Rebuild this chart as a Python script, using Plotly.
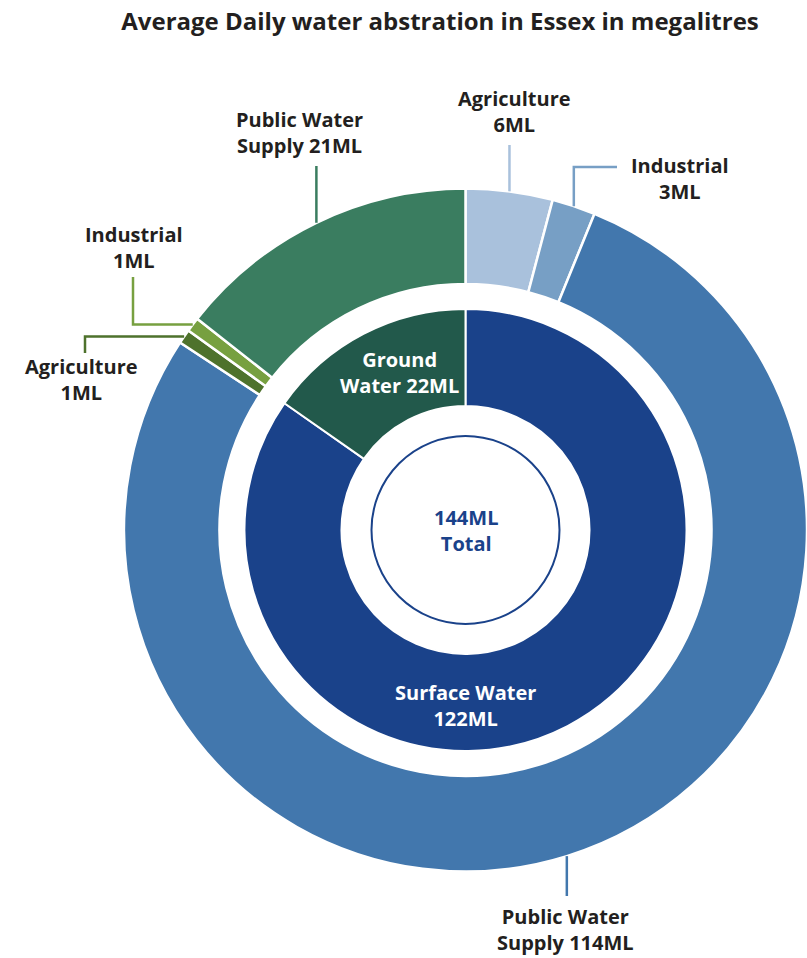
import math
import plotly.graph_objects as go

# ---------------- data ----------------
title_text = "Average Daily water abstration in Essex in megalitres"

outer_labels = ["Agriculture", "Industrial", "Public Water Supply",
                "Agriculture", "Industrial", "Public Water Supply"]
outer_values = [6, 3, 114, 1, 1, 21]
outer_colors = ["#a9c1dc", "#779fc5", "#4277ad", "#4e722c", "#77a040", "#3a7d60"]

inner_labels = ["Surface Water", "Ground Water"]
inner_values = [122, 22]
inner_colors = ["#1a428a", "#22594b"]

total_value = 144

# ---------------- layout geometry (pixels) ----------------
W, H = 807, 958
CX_LEFT = 124            # left edge of outer ring
CY = 530
R_OUT = (W - CX_LEFT) / 2
CX = CX_LEFT + R_OUT
R_OUT_HOLE = 246
R_IN = 221
R_IN_HOLE = 124
R_CIRCLE = 94

TEXT = "#231f20"
FONT = "Open Sans"
LABEL_SIZE = 20


def px(x):
    return x / W


def py(y):
    return 1 - y / H


fig = go.Figure()

fig.add_trace(go.Pie(
    labels=[f"{l} ({i})" for i, l in enumerate(outer_labels)],
    values=outer_values,
    sort=False, direction="clockwise", rotation=0,
    hole=R_OUT_HOLE / R_OUT,
    marker=dict(colors=outer_colors, line=dict(color="white", width=2.5)),
    textinfo="none", hoverinfo="label+value",
    domain=dict(x=[px(CX - R_OUT), px(CX + R_OUT)],
                y=[py(CY + R_OUT), py(CY - R_OUT)]),
    showlegend=False,
))

fig.add_trace(go.Pie(
    labels=inner_labels,
    values=inner_values,
    sort=False, direction="clockwise", rotation=0,
    hole=R_IN_HOLE / R_IN,
    marker=dict(colors=inner_colors, line=dict(color="white", width=2)),
    textinfo="none", hoverinfo="label+value",
    domain=dict(x=[px(CX - R_IN), px(CX + R_IN)],
                y=[py(CY + R_IN), py(CY - R_IN)]),
    showlegend=False,
))

shapes = [dict(type="circle", xref="paper", yref="paper",
               x0=px(CX - R_CIRCLE), x1=px(CX + R_CIRCLE),
               y0=py(CY + R_CIRCLE), y1=py(CY - R_CIRCLE),
               line=dict(color=inner_colors[0], width=2))]

# ---------- leader lines and labels for the outer ring ----------
total_outer = sum(outer_values)
anchors = []
cum = 0
for v in outer_values:
    mid = (cum + v / 2) / total_outer * 2 * math.pi
    anchors.append((CX + R_OUT * math.sin(mid), CY - R_OUT * math.cos(mid)))
    cum += v

# routing style per segment and label centre (px)
routes = [
    ("v", 145, None, (514, 112)),
    ("vh", 167, 617, (680, 178)),
    ("v", 896, None, (565, 929)),
    ("hv", 85, 353, (81, 380)),
    ("hv", 133, 277, (134, 248)),
    ("v", 166, None, (299, 132)),
]

annotations = []
for i, (style, a, b, (lx, ly)) in enumerate(routes):
    ax, ay = anchors[i]
    if style == "v":
        pts = [(ax, ay), (ax, a)]
    elif style == "vh":
        pts = [(ax, ay), (ax, a), (b, a)]
    else:
        pts = [(ax, ay), (a, ay), (a, b)]
    path = "M " + " L ".join(f"{px(x):.5f},{py(y):.5f}" for x, y in pts)
    shapes.append(dict(type="path", xref="paper", yref="paper", path=path,
                       line=dict(color=outer_colors[i], width=2.5)))
    name = outer_labels[i]
    if "Supply" in name:
        txt = f"Public Water<br>Supply {outer_values[i]}ML"
    else:
        txt = f"{name}<br>{outer_values[i]}ML"
    annotations.append(dict(x=px(lx), y=py(ly), xref="paper", yref="paper",
                            text=f"<b>{txt}</b>", showarrow=False,
                            xanchor="center", yanchor="middle",
                            font=dict(family=FONT, size=LABEL_SIZE, color=TEXT)))

# inner ring labels
annotations.append(dict(x=px(CX), y=py(705), xref="paper", yref="paper",
                        text=f"<b>Surface Water<br>{inner_values[0]}ML</b>",
                        showarrow=False, xanchor="center", yanchor="middle",
                        font=dict(family=FONT, size=LABEL_SIZE, color="white")))
annotations.append(dict(x=px(399), y=py(372), xref="paper", yref="paper",
                        text=f"<b>Ground<br>Water {inner_values[1]}ML</b>",
                        showarrow=False, xanchor="center", yanchor="middle",
                        font=dict(family=FONT, size=LABEL_SIZE, color="white")))
# centre total
annotations.append(dict(x=px(CX), y=py(CY), xref="paper", yref="paper",
                        text=f"<b>{total_value}ML<br>Total</b>",
                        showarrow=False, xanchor="center", yanchor="middle",
                        font=dict(family=FONT, size=LABEL_SIZE, color=inner_colors[0])))

fig.update_layout(
    width=W, height=H,
    margin=dict(l=0, r=0, t=0, b=0),
    paper_bgcolor="white", plot_bgcolor="white",
    title=dict(text=f"<b>{title_text}</b>", x=440 / W, y=1 - 22 / H,
               xanchor="center", yanchor="middle",
               font=dict(family=FONT, size=24, color=TEXT)),
    shapes=shapes,
    annotations=annotations,
)

fig.write_html("out.html")
